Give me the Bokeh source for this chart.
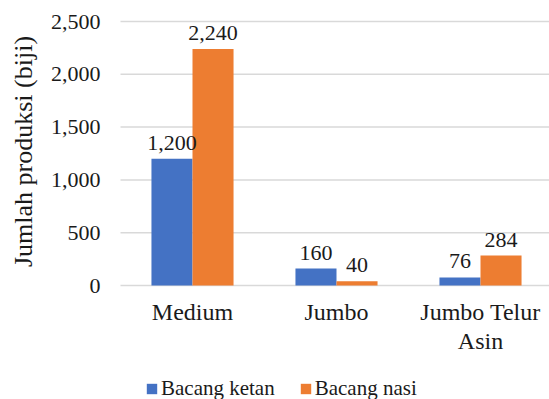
import math
from bokeh.plotting import figure
from bokeh.models import Range1d, Legend, LegendItem, ColumnDataSource
from bokeh.core.properties import value
from bokeh.embed import file_html
from bokeh.resources import INLINE

categories = ["Medium", "Jumbo", "Jumbo Telur\nAsin"]
series_names = ["Bacang ketan", "Bacang nasi"]
ketan = [1200, 160, 76]
nasi = [2240, 40, 284]
y_ticks = [0, 500, 1000, 1500, 2000, 2500]
y_title = "Jumlah produksi (biji)"

FONT_NAME = "Liberation Serif"
FONT = value(FONT_NAME)
BLUE = "#4472C4"
ORANGE = "#ED7D31"
TXT = "#1a1a1a"

W, H = 549, 399
PX_PER_CAT = 144.0          # pixels per category
PX_PER_UNIT = 264.0 / 2500  # pixels per value unit
X0_PX, Y0_PX = 192.0, 285.0  # pixel position of category 0 centre / value 0

x_start = -X0_PX / PX_PER_CAT
y_start = -(H - Y0_PX) / PX_PER_UNIT
p = figure(width=W, height=H, output_backend="svg", toolbar_location=None,
           x_range=Range1d(x_start, x_start + W / PX_PER_CAT),
           y_range=Range1d(y_start, y_start + H / PX_PER_UNIT),
           x_axis_location=None, y_axis_location=None,
           min_border=0)
p.outline_line_color = None
p.grid.visible = False
p.background_fill_color = "white"
p.border_fill_color = "white"

n = len(categories)
xs = list(range(n))
x_left, x_right = -0.5, x_start + W / PX_PER_CAT + 0.1

# gridlines
p.segment(x0=[x_left] * len(y_ticks), x1=[x_right] * len(y_ticks), y0=y_ticks, y1=y_ticks,
          line_color="#d9d9d9", line_width=1.5)

# y tick labels
p.text(x=[x_left] * len(y_ticks), y=y_ticks, text=[f"{t:,}" for t in y_ticks],
       x_offset=-20, text_align="right", text_baseline="middle",
       text_font=FONT, text_font_size="22px", text_color=TXT)

# y title
p.text(x=[x_start + 23 / PX_PER_CAT], y=[(Y0_PX - 151) / PX_PER_UNIT], text=[y_title],
       angle=math.pi / 2, text_align="center", text_baseline="middle",
       text_font=FONT, text_font_size="26px", text_color=TXT)

# bars
w = 0.285
src_k = ColumnDataSource(dict(x=[i - w / 2 for i in xs], top=ketan, lab=[f"{v:,}" for v in ketan]))
src_n = ColumnDataSource(dict(x=[i + w / 2 for i in xs], top=nasi, lab=[f"{v:,}" for v in nasi]))
rk = p.vbar(x="x", top="top", width=w, bottom=0, source=src_k, fill_color=BLUE, line_color=None)
rn = p.vbar(x="x", top="top", width=w, bottom=0, source=src_n, fill_color=ORANGE, line_color=None)

for src in (src_k, src_n):
    p.text(x="x", y="top", text="lab", source=src, text_align="center", text_baseline="alphabetic",
           y_offset=-16, text_font=FONT, text_font_size="22px", text_color=TXT)

# category labels
p.text(x=xs, y=[0] * n, text=categories, text_align="center", text_baseline="top",
       y_offset=13, text_font=FONT, text_font_size="24px", text_color=TXT, text_line_height=1.12)

legend = Legend(items=[LegendItem(label=series_names[0], renderers=[rk]),
                       LegendItem(label=series_names[1], renderers=[rn])],
                orientation="horizontal", location=(145, -2),
                glyph_width=13, glyph_height=13, label_standoff=3, spacing=24,
                padding=0, margin=0, border_line_color=None, background_fill_alpha=0,
                label_text_font=FONT_NAME, label_text_font_size="21px", label_text_color=TXT)
p.add_layout(legend, "center")

open("out.html", "w").write(file_html(p, INLINE))
